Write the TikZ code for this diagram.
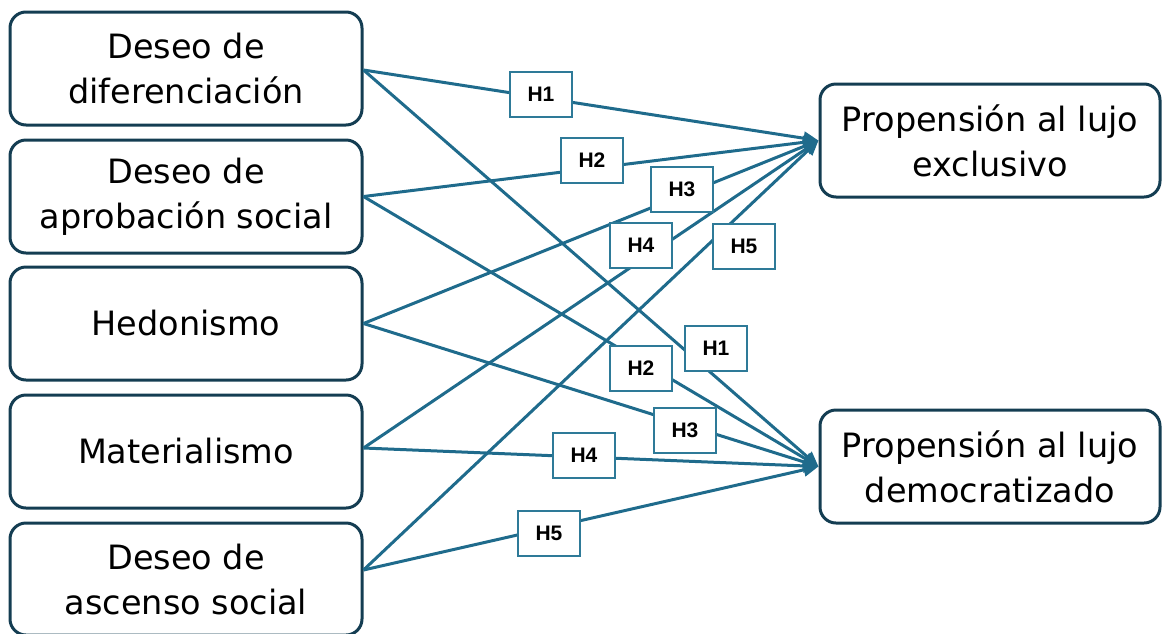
\documentclass[tikz,border=0pt]{standalone}
\usepackage{fontspec}
\setmainfont{DejaVu Sans}
\newfontfamily\labfont{Liberation Sans}
\usetikzlibrary{arrows.meta}
\definecolor{boxc}{HTML}{143D52}
\definecolor{linec}{HTML}{1F6B8C}
\definecolor{labc}{HTML}{2E7A98}
\begin{document}
\begin{tikzpicture}[x=1pt,y=-1pt,
 var/.style={draw=boxc, line width=3pt, rounded corners=16pt, minimum width=352pt, minimum height=113pt, inner sep=0pt, align=center, font=\fontsize{33.5}{45}\selectfont, text=black},
 outc/.style={var, minimum width=340pt},
 hyp/.style={draw=labc, line width=2pt, fill=white, minimum width=62pt, minimum height=45pt, inner sep=0pt, font=\labfont\bfseries\fontsize{21}{25}\selectfont, text=black},
 link/.style={draw=linec, line width=3pt, -{Triangle[length=15pt,width=13pt]}}]
\useasboundingbox (0,0) rectangle (1162,633);
\node[var] (d1) at (186,68.5) {Deseo de\\diferenciación};
\node[var] (d2) at (186,196.5) {Deseo de\\aprobación social};
\node[var] (d3) at (186,323.5) {Hedonismo};
\node[var] (d4) at (186,451.5) {Materialismo};
\node[var, minimum height=112pt] (d5) at (186,579) {Deseo de\\ascenso social};
\node[outc] (ex) at (990,140.5) {Propensión al lujo\\exclusivo};
\node[outc] (dm) at (990,466.5) {Propensión al lujo\\democratizado};
% connectors
\draw[link] ([yshift=-1.5pt]d1.east) -- (ex.west);
\draw[link] (d2.east) -- (ex.west);
\draw[link] (d3.east) -- (ex.west);
\draw[link] ([yshift=3.5pt]d4.east) -- (ex.west);
\draw[link] ([yshift=9pt]d5.east) -- (ex.west);
\draw[link] ([yshift=-1.5pt]d1.east) -- (dm.west);
\draw[link] (d2.east) -- (dm.west);
\draw[link] (d3.east) -- (dm.west);
\draw[link] ([yshift=3.5pt]d4.east) -- (dm.west);
\draw[link] ([yshift=9pt]d5.east) -- (dm.west);
% hypothesis labels
\node[hyp] (ha1) at (541,94) {H1};
\node[hyp] (ha2) at (592,160) {H2};
\node[hyp] (ha3) at (682,189) {H3};
\node[hyp] (ha4) at (641,245) {H4};
\node[hyp] (ha5) at (744,246) {H5};
\node[hyp] (hb1) at (716,348) {H1};
\node[hyp] (hb2) at (641,368) {H2};
\node[hyp] (hb3) at (685,430) {H3};
\node[hyp] (hb4) at (584,455) {H4};
\node[hyp] (hb5) at (549,533) {H5};
\end{tikzpicture}
\end{document}
